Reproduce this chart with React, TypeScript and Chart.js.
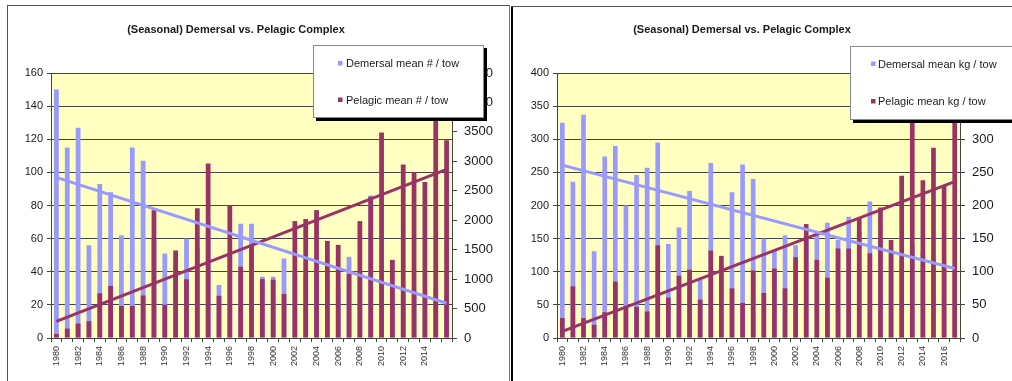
import React, { useEffect, useRef } from 'react';
import { Chart, registerables } from 'chart.js';

Chart.register(...registerables);

const FONT = 'Liberation Sans, Arial, sans-serif';

// ---------- Left chart (numbers per tow) ----------
const yearsA = [
  '1980', '1981', '1982', '1983', '1984', '1985', '1986', '1987', '1988', '1989',
  '1990', '1991', '1992', '1993', '1994', '1995', '1996', '1997', '1998', '1999',
  '2000', '2001', '2002', '2003', '2004', '2005', '2006', '2007', '2008', '2009',
  '2010', '2011', '2012', '2013', '2014', '2015', '2016',
];
const demersalCountA = [
  150, 115, 127, 56, 93, 88, 62, 115, 107, 60,
  51, 45, 60, 55, 70, 32, 50, 69, 69, 37,
  37, 48, 40, 38, 42, 35, 30, 49, 40, 86,
  35, 30, 30, 28, 25, 30, 25,
];
const pelagicCountA = [
  70, 160, 245, 285, 760, 885, 545, 545, 722, 2172,
  565, 1487, 997, 2205, 2963, 717, 2250, 1212, 1580, 1000,
  990, 748, 1985, 2020, 2172, 1650, 1582, 1088, 1985, 2400,
  3489, 1327, 2947, 2818, 2648, 4200, 3360,
];
const demersalTrendEndsA = [97, 21];
const pelagicTrendEndsA = [281, 2864];
const leftTicksA = { min: 0, max: 160, step: 20 };
const rightTicksA = { min: 0, max: 4500, step: 500 };
const labelsA = ['Demersal mean # / tow', 'Pelagic mean # / tow'];

// ---------- Right chart (kg per tow) ----------
const yearsB = [
  '1980', '1981', '1982', '1983', '1984', '1985', '1986', '1987', '1988', '1989',
  '1990', '1991', '1992', '1993', '1994', '1995', '1996', '1997', '1998', '1999',
  '2000', '2001', '2002', '2003', '2004', '2005', '2006', '2007', '2008', '2009',
  '2010', '2011', '2012', '2013', '2014', '2015', '2016', '2017',
];
const demersalKgB = [
  325, 236, 337, 131, 274, 290, 200, 246, 257, 295,
  142, 167, 222, 88, 264, 110, 220, 262, 240, 150,
  131, 155, 140, 150, 156, 174, 148, 183, 160, 206,
  150, 130, 120, 140, 130, 120, 110, 100,
];
const pelagicKgB = [
  30, 78, 30, 20, 39, 85, 48, 47, 40, 140,
  61, 94, 103, 58, 132, 124, 75, 53, 102, 68,
  105, 75, 122, 172, 118, 91, 135, 135, 181, 128,
  197, 148, 245, 380, 238, 287, 230, 360,
];
const demersalTrendEndsB = [261, 105];
const pelagicTrendEndsB = [10, 236];
const leftTicksB = { min: 0, max: 400, step: 50 };
const rightTicksB = { min: 0, max: 400, step: 50 };
const labelsB = ['Demersal mean kg / tow', 'Pelagic mean kg / tow'];

const TITLE = '(Seasonal) Demersal vs. Pelagic Complex';
const DEM_COLOR = '#9999FF';
const PEL_COLOR = '#993366';
const GRID = '#444444';
const TEXT = '#1a1a1a';

function ends(n: number, pair: number[]) {
  const arr: (number | null)[] = new Array(n).fill(null);
  arr[0] = pair[0];
  arr[n - 1] = pair[1];
  return arr;
}

type Spec = {
  years: string[];
  dem: number[];
  pel: number[];
  demTrend: number[];
  pelTrend: number[];
  lt: { min: number; max: number; step: number };
  rt: { min: number; max: number; step: number };
  labels: string[];
  lastLabel: number;
  leftW: number;
  rightW: number;
  titleX: number;
  legend: { x: number; y: number; w: number; h: number; mx: number; tx: number; r1: number; r2: number };
};

function makeConfig(s: Spec): any {
  const n = s.years.length;
  const plugins = [
    {
      id: 'plotBg',
      beforeDraw(chart: any) {
        const { ctx, chartArea: a } = chart;
        ctx.save();
        ctx.fillStyle = '#FFFFC2';
        ctx.fillRect(a.left, a.top, a.right - a.left, a.bottom - a.top);
        ctx.restore();
      },
    },
    {
      id: 'titleAndLegend',
      afterDraw(chart: any) {
        const ctx = chart.ctx;
        ctx.save();
        ctx.fillStyle = TEXT;
        ctx.font = `bold 11px ${FONT}`;
        ctx.textAlign = 'center';
        ctx.textBaseline = 'middle';
        ctx.fillText(TITLE, s.titleX, 30);
        const L = s.legend;
        ctx.fillStyle = '#000';
        ctx.fillRect(L.x + 3, L.y + 3, L.w, L.h);
        ctx.fillStyle = '#fff';
        ctx.fillRect(L.x, L.y, L.w, L.h);
        ctx.strokeStyle = '#888';
        ctx.lineWidth = 1;
        ctx.strokeRect(L.x + 0.5, L.y + 0.5, L.w - 1, L.h - 1);
        ctx.font = `11px ${FONT}`;
        ctx.textAlign = 'left';
        ctx.textBaseline = 'middle';
        const rows = [
          { y: L.r1, c: DEM_COLOR, t: s.labels[0] },
          { y: L.r2, c: PEL_COLOR, t: s.labels[1] },
        ];
        rows.forEach((r) => {
          ctx.fillStyle = r.c;
          ctx.fillRect(L.mx, r.y - 2.5, 4.5, 4.5);
          ctx.fillStyle = TEXT;
          ctx.fillText(r.t, L.tx, r.y + 0.5);
        });
        ctx.restore();
      },
    },
  ];

  return {
    type: 'bar',
    data: {
      labels: s.years,
      datasets: [
        {
          type: 'line',
          label: 'dem trend',
          data: ends(n, s.demTrend),
          yAxisID: 'y',
          borderColor: DEM_COLOR,
          borderWidth: 3,
          pointRadius: 0,
          spanGaps: true,
          order: 1,
        },
        {
          type: 'line',
          label: 'pel trend',
          data: ends(n, s.pelTrend),
          yAxisID: 'y2',
          borderColor: PEL_COLOR,
          borderWidth: 3,
          pointRadius: 0,
          spanGaps: true,
          order: 2,
        },
        {
          label: s.labels[1],
          data: s.pel,
          yAxisID: 'y2',
          backgroundColor: PEL_COLOR,
          grouped: false,
          barPercentage: 0.44,
          categoryPercentage: 1,
          order: 3,
        },
        {
          label: s.labels[0],
          data: s.dem,
          yAxisID: 'y',
          backgroundColor: DEM_COLOR,
          grouped: false,
          barPercentage: 0.44,
          categoryPercentage: 1,
          order: 4,
        },
      ],
    },
    options: {
      responsive: false,
      animation: false,
      devicePixelRatio: 1,
      layout: { padding: { left: 0, right: 0, top: 73, bottom: 0 } },
      plugins: { legend: { display: false }, title: { display: false }, tooltip: { enabled: false } },
      scales: {
        x: {
          type: 'category',
          offset: true,
          grid: { display: true, drawOnChartArea: false, offset: true, tickLength: 4, color: GRID },
          border: { display: true, color: GRID },
          ticks: {
            autoSkip: false,
            maxRotation: 90,
            minRotation: 90,
            padding: 4,
            color: '#333',
            font: { family: FONT, size: 9 },
            callback: (_v: any, i: number) => {
              const y = parseInt(s.years[i], 10);
              return i % 2 === 0 && y <= s.lastLabel ? s.years[i] : '';
            },
          },
          afterFit: (sc: any) => {
            sc.height = 43;
          },
        },
        y: {
          position: 'left',
          min: s.lt.min,
          max: s.lt.max,
          grid: { color: GRID, tickLength: 4 },
          border: { display: true, color: GRID },
          ticks: {
            stepSize: s.lt.step,
            padding: 4,
            color: TEXT,
            font: { family: FONT, size: 11 },
            callback: (v: any) => String(v),
          },
          afterFit: (sc: any) => {
            sc.width = s.leftW;
          },
        },
        y2: {
          position: 'right',
          min: s.rt.min,
          max: s.rt.max,
          grid: { drawOnChartArea: false, color: GRID, tickLength: 5 },
          border: { display: true, color: GRID },
          ticks: {
            stepSize: s.rt.step,
            padding: 7,
            color: TEXT,
            font: { family: FONT, size: 13 },
            callback: (v: any) => String(v),
          },
          afterFit: (sc: any) => {
            sc.width = s.rightW;
          },
        },
      },
    },
    plugins,
  };
}

function ChartCanvas({ spec, left, width }: { spec: Spec; left: number; width: number }) {
  const ref = useRef<HTMLCanvasElement | null>(null);
  useEffect(() => {
    if (!ref.current) return;
    const chart = new Chart(ref.current, makeConfig(spec));
    return () => chart.destroy();
  }, [spec]);
  return (
    <canvas
      ref={ref}
      width={width}
      height={381}
      style={{ position: 'absolute', left, top: 0, width, height: 381 }}
    />
  );
}

const specA: Spec = {
  years: yearsA,
  dem: demersalCountA,
  pel: pelagicCountA,
  demTrend: demersalTrendEndsA,
  pelTrend: pelagicTrendEndsA,
  lt: leftTicksA,
  rt: rightTicksA,
  labels: labelsA,
  lastLabel: 2014,
  leftW: 51,
  rightW: 58,
  titleX: 236,
  legend: { x: 313, y: 45, w: 171, h: 73, mx: 338, tx: 346, r1: 63.5, r2: 100 },
};

const specB: Spec = {
  years: yearsB,
  dem: demersalKgB,
  pel: pelagicKgB,
  demTrend: demersalTrendEndsB,
  pelTrend: pelagicTrendEndsB,
  lt: leftTicksB,
  rt: rightTicksB,
  labels: labelsB,
  lastLabel: 2016,
  leftW: 47,
  rightW: 52,
  titleX: 232,
  legend: { x: 340, y: 46, w: 175, h: 74, mx: 361, tx: 368, r1: 64, r2: 101.5 },
};

export default function App() {
  return (
    <div
      style={{
        position: 'fixed',
        left: 0,
        top: 0,
        width: 1012,
        height: 381,
        background: '#fff',
        overflow: 'hidden',
      }}
    >
      <div
        style={{
          position: 'absolute',
          left: 7,
          top: 5,
          width: 503,
          height: 400,
          boxSizing: 'border-box',
          borderLeft: '1px solid #555',
          borderTop: '1px solid #555',
          borderRight: '1px solid #777',
        }}
      />
      <div style={{ position: 'absolute', left: 511, top: 6, width: 2, height: 380, background: '#000' }} />
      <div style={{ position: 'absolute', left: 511, top: 6, width: 510, height: 1, background: '#555' }} />
      <ChartCanvas spec={specA} left={0} width={510} />
      <ChartCanvas spec={specB} left={510} width={502} />
    </div>
  );
}
